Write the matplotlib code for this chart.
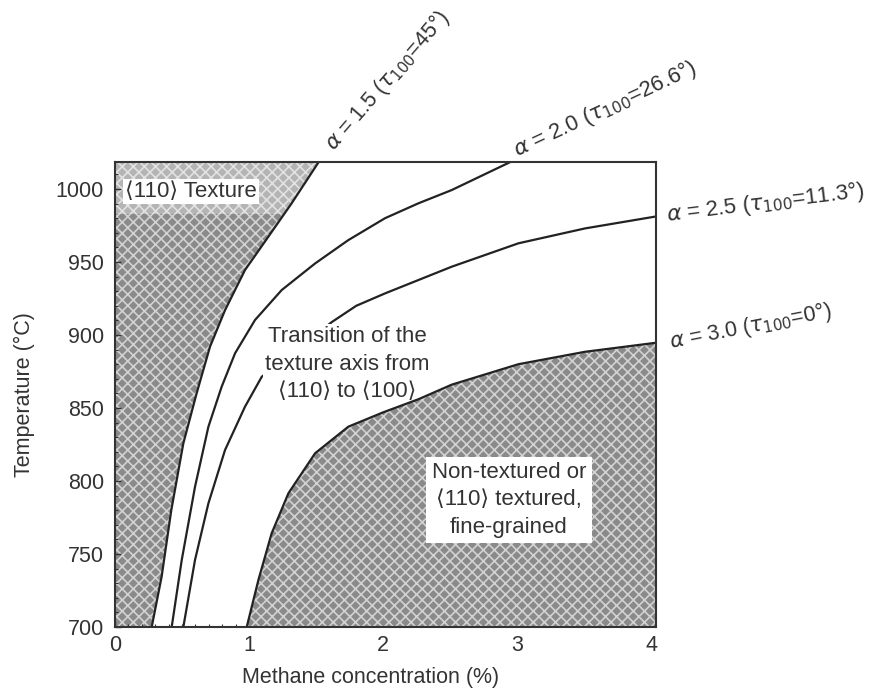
import matplotlib
matplotlib.use("Agg")
import matplotlib.pyplot as plt
from matplotlib.ticker import MultipleLocator
from matplotlib.patches import Rectangle

plt.rcParams['font.family'] = ['Liberation Sans', 'DejaVu Sans']
plt.rcParams['hatch.linewidth'] = 1.2

# Boundary curves (temperature in °C, methane concentration in %)
t_a15 = [700, 734.5, 780, 825.8, 860, 892, 917, 944.5, 967.3, 990.2, 1018.5]
x_a15 = [0.274, 0.348, 0.42, 0.51, 0.609, 0.709, 0.821, 0.97, 1.144, 1.318, 1.52]

t_a20 = [700, 745.9, 796, 837.2, 864.6, 887.5, 910.3, 930.8, 949, 965, 980, 990.2, 999.3, 1018.5]
x_a20 = [0.423, 0.498, 0.597, 0.697, 0.796, 0.896, 1.045, 1.244, 1.493, 1.741, 2.015, 2.264, 2.513, 2.95]

t_a25 = [700, 745.9, 784.7, 821.2, 850.9, 871.4, 909, 920, 928.5, 946.8, 962.8, 973, 981.2]
x_a25 = [0.51, 0.597, 0.697, 0.821, 0.97, 1.095, 1.62, 1.80, 2.015, 2.513, 3.01, 3.507, 4.037]

t_a30 = [700, 732.2, 764.2, 791.6, 819, 837.2, 847, 856, 866, 880, 888.5, 894.7]
x_a30 = [0.983, 1.07, 1.169, 1.294, 1.493, 1.741, 2.0, 2.264, 2.513, 3.01, 3.507, 4.037]

x_ticks = [0, 1, 2, 3, 4]
y_ticks = [700, 750, 800, 850, 900, 950, 1000]

curve_labels = [r"$\alpha$ = 1.5 ($\tau_{100}$=45°)",
                r"$\alpha$ = 2.0 ($\tau_{100}$=26.6°)",
                r"$\alpha$ = 2.5 ($\tau_{100}$=11.3°)",
                r"$\alpha$ = 3.0 ($\tau_{100}$=0°)"]

XMAX, YMIN, YMAX = 4.037, 700, 1018.5
TXT = '#333333'

fig = plt.figure(figsize=(8.74, 6.93), dpi=100)
ax = fig.add_axes([115/874, 1-627/693, (656-115)/874, (627-162)/693])
ax.set_xlim(0, XMAX)
ax.set_ylim(YMIN, YMAX)

shade = dict(facecolor='#8a8a8a', edgecolor='#d2d2d2', hatch='xxx', linewidth=0)
light = dict(facecolor='#b4b4b4', edgecolor='#e2e2e2', hatch='xxx', linewidth=0)

# left shaded region: < alpha 1.5 (lighter near the top)
ax.fill_betweenx(t_a15, 0, x_a15, **shade, zorder=1)
top_part = ax.fill_betweenx(t_a15, 0, x_a15, **light, zorder=1.5)
top_part.set_clip_path(Rectangle((0, 983), XMAX, 40, transform=ax.transData))
# bottom-right shaded region: below alpha 3.0 (drawn over the transition label box)
ax.fill_betweenx(t_a30, x_a30, XMAX, **shade, zorder=3.5)

# alpha = 2.5 passes behind the transition label; the others stay on top
ax.plot(x_a25, t_a25, color='#222222', lw=1.6, zorder=2, solid_joinstyle='round')
for xs, ts in [(x_a15, t_a15), (x_a20, t_a20), (x_a30, t_a30)]:
    ax.plot(xs, ts, color='#222222', lw=1.6, zorder=4, solid_joinstyle='round')

# Region labels
ax.text(0.075, 998, "⟨110⟩ Texture", fontsize=16, color=TXT, ha='left', va='center',
        bbox=dict(facecolor='white', edgecolor='none', pad=1.5), zorder=3)
ax.text(1.735, 880, "Transition of the\ntexture axis from\n⟨110⟩ to ⟨100⟩", fontsize=16,
        color=TXT, ha='center', va='center', linespacing=1.4,
        bbox=dict(facecolor='white', edgecolor='none', pad=2), zorder=3)
ax.text(2.94, 787, "Non-textured or\n⟨110⟩ textured,\nfine-grained", fontsize=16,
        color=TXT, ha='center', va='center', linespacing=1.4,
        bbox=dict(facecolor='white', edgecolor='none', pad=4), zorder=4.5)

# Curve labels outside the axes
ax.text(1.63, 1026, curve_labels[0], fontsize=15.5, color=TXT, rotation=49,
        rotation_mode='anchor', ha='left', va='baseline', clip_on=False)
ax.text(3.0, 1022, curve_labels[1], fontsize=15.8, color=TXT, rotation=25,
        rotation_mode='anchor', ha='left', va='baseline', clip_on=False)
ax.text(4.12, 978, curve_labels[2], fontsize=15.8, color=TXT, rotation=7,
        rotation_mode='anchor', ha='left', va='baseline', clip_on=False)
ax.text(4.15, 891, curve_labels[3], fontsize=15.5, color=TXT, rotation=11,
        rotation_mode='anchor', ha='left', va='baseline', clip_on=False)

ax.set_xticks(x_ticks)
ax.set_yticks(y_ticks)
ax.xaxis.set_minor_locator(MultipleLocator(0.1))
ax.yaxis.set_minor_locator(MultipleLocator(10))
ax.tick_params(which='both', direction='in', colors=TXT, labelsize=15.5, labelcolor=TXT)
ax.tick_params(which='major', length=4, width=1)
ax.tick_params(which='minor', length=2.5, width=0.8)
ax.tick_params(axis='x', pad=6)
ax.tick_params(axis='y', pad=8)

for s in ax.spines.values():
    s.set_linewidth(1.5)
    s.set_color(TXT)
    s.set_zorder(5)

ax.set_xlabel("Methane concentration (%)", fontsize=15.5, color=TXT)
ax.xaxis.set_label_coords(0.473, -0.086)
ax.set_ylabel("Temperature (°C)", fontsize=15.5, color=TXT)
ax.yaxis.set_label_coords(-0.148, 0.5)

fig.savefig("out.png", dpi=100, facecolor='white')
